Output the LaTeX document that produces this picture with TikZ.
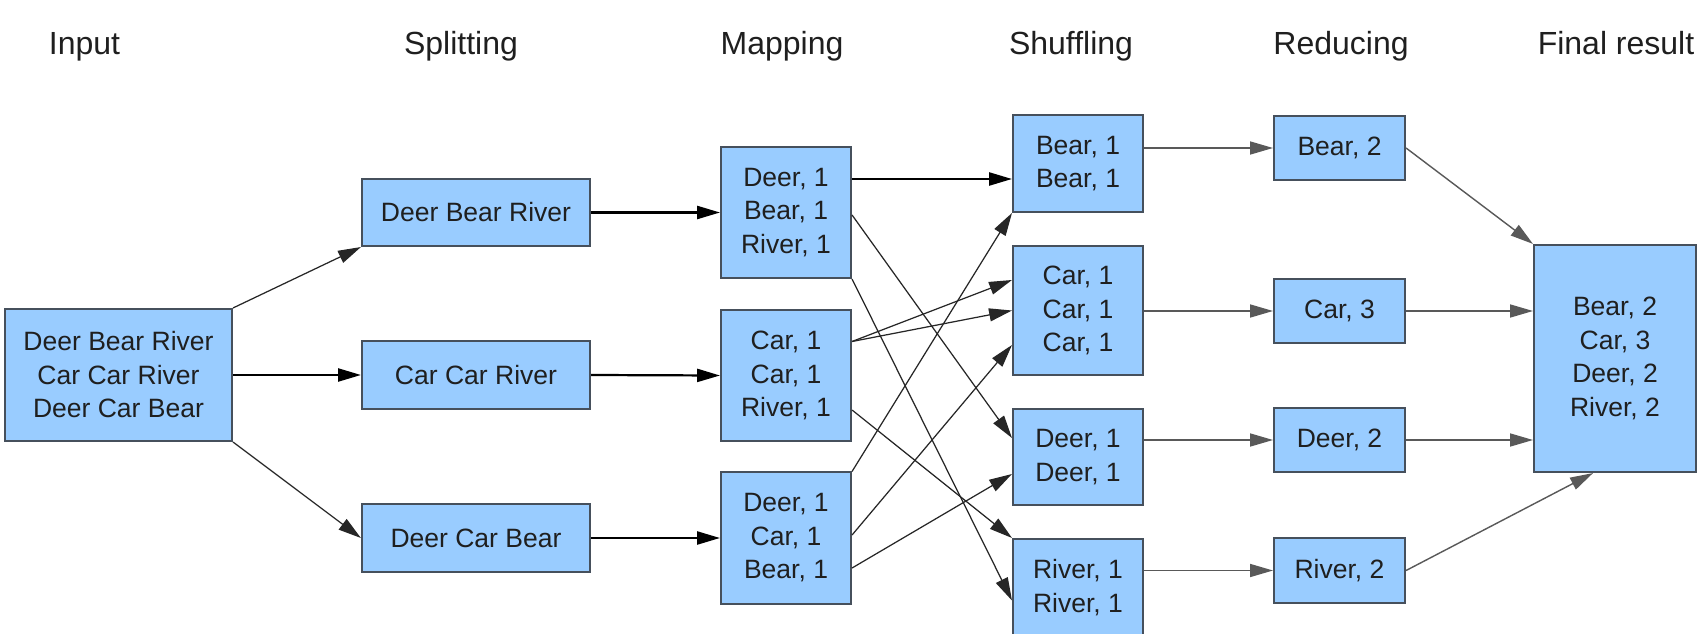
\documentclass[tikz,border=0pt]{standalone}
\usepackage{fontspec}
\setmainfont{Liberation Sans}
\usetikzlibrary{arrows.meta,calc}
\definecolor{boxfill}{RGB}{153,204,255}
\definecolor{boxline}{RGB}{70,80,92}
\begin{document}
\begin{tikzpicture}[x=0.01cm,y=-0.01cm,
  box/.style={draw=boxline, fill=boxfill, line width=0.57pt, inner sep=0pt, align=center,
    font=\fontsize{7.54pt}{9.53pt}\selectfont, text=black!88},
  title/.style={anchor=base, font=\fontsize{9.1pt}{11pt}\selectfont, text=black!88},
  bigarrow/.style={-{Triangle[length=6.5pt,width=3.7pt]}, line width=0.63pt, black},
  thinarrow/.style={-{Triangle[length=6.5pt,width=3.7pt]}, line width=0.35pt, black!85},
  grayarrow/.style={-{Triangle[length=6.5pt,width=3.7pt]}, line width=0.4pt, black!65},
]
\useasboundingbox (0,0) rectangle (1698,634);
\clip (0,0) rectangle (1698,634);
\fill[white] (0,0) rectangle (1698,634);

% titles
\node[title] (tIn)  at (84.5,55) {Input};
\node[title] (tSp)  at (461,55)  {Splitting};
\node[title] (tMa)  at (782,55)  {Mapping};
\node[title] (tSh)  at (1071,55) {Shuffling};
\node[title] (tRe)  at (1341,55) {Reducing};
\node[title] (tFi)  at (1616,55) {Final result};

% input
\node[box, minimum width=2.27cm, minimum height=1.32cm] (in) at (118.5,375)
  {Deer Bear River\\Car Car River\\Deer Car Bear};

% splitting
\node[box, minimum width=2.28cm, minimum height=0.67cm] (s1) at (476,212.5) {Deer Bear River};
\node[box, minimum width=2.28cm, minimum height=0.67cm] (s2) at (476,375)   {Car Car River};
\node[box, minimum width=2.28cm, minimum height=0.67cm] (s3) at (476,538)   {Deer Car Bear};

% mapping
\node[box, minimum width=1.30cm, minimum height=1.31cm] (m1) at (786,212.5) {Deer, 1\\Bear, 1\\River, 1};
\node[box, minimum width=1.30cm, minimum height=1.31cm] (m2) at (786,375.5) {Car, 1\\Car, 1\\River, 1};
\node[box, minimum width=1.30cm, minimum height=1.31cm] (m3) at (786,538)   {Deer, 1\\Car, 1\\Bear, 1};

% shuffling
\node[box, minimum width=1.30cm, minimum height=0.97cm] (sB) at (1078,163.5) {Bear, 1\\Bear, 1};
\node[box, minimum width=1.30cm, minimum height=1.29cm] (sC) at (1078,310.5) {Car, 1\\Car, 1\\Car, 1};
\node[box, minimum width=1.30cm, minimum height=0.96cm] (sD) at (1078,457)   {Deer, 1\\Deer, 1};
\node[box, minimum width=1.30cm, minimum height=0.97cm] (sR) at (1078,587.5) {River, 1\\River, 1};

% reducing
\node[box, minimum width=1.31cm, minimum height=0.64cm] (rB) at (1339.5,148)   {Bear, 2};
\node[box, minimum width=1.31cm, minimum height=0.64cm] (rC) at (1339.5,311)   {Car, 3};
\node[box, minimum width=1.31cm, minimum height=0.64cm] (rD) at (1339.5,440)   {Deer, 2};
\node[box, minimum width=1.31cm, minimum height=0.64cm] (rR) at (1339.5,570.5) {River, 2};

% final
\node[box, minimum width=1.62cm, minimum height=2.27cm] (fin) at (1615,358.5)
  {Bear, 2\\Car, 3\\Deer, 2\\River, 2};

% input -> splitting
\draw[thinarrow] (in.north east) -- (s1.south west);
\draw[bigarrow]  (in.east) -- (s2.west);
\draw[thinarrow] (in.south east) -- (s3.west);

% splitting -> mapping
\draw[bigarrow] (s1.east) -- (m1.west);
\draw[bigarrow] (s2.east) -- (m2.west);
\draw[bigarrow] (s3.east) -- (m3.west);

% mapping -> shuffling
\draw[bigarrow]  ($(m1.east)+(0,-33.5)$) -- ($(sB.west)+(0,15.5)$);
\draw[thinarrow] ($(m1.east)+(0,2.5)$)   -- ($(sD.west)+(0,-19)$);
\draw[thinarrow] (m1.south east)         -- ($(sR.west)+(0,13)$);
\draw[thinarrow] ($(m2.east)+(0,-34)$)   -- ($(sC.west)+(0,-30.5)$);
\draw[thinarrow] ($(m2.east)+(0,-34)$)   -- (sC.west);
\draw[thinarrow] ($(m2.east)+(0,34.5)$)  -- (sR.north west);
\draw[thinarrow] (m3.north east)         -- (sB.south west);
\draw[thinarrow] ($(m3.east)+(0,-3)$)    -- ($(sC.west)+(0,34.5)$);
\draw[thinarrow] ($(m3.east)+(0,30)$)    -- ($(sD.west)+(0,17)$);

% shuffling -> reducing
\draw[grayarrow] (sB.east |- rB.west) -- (rB.west);
\draw[grayarrow] (sC.east |- rC.west) -- (rC.west);
\draw[grayarrow] (sD.east |- rD.west) -- (rD.west);
\draw[grayarrow] (sR.east |- rR.west) -- (rR.west);

% reducing -> final
\draw[grayarrow] (rB.east) -- (fin.north west);
\draw[grayarrow] (rC.east) -- (fin.west |- rC.east);
\draw[grayarrow] (rD.east) -- (fin.west |- rD.east);
\draw[grayarrow] (rR.east) -- ($(fin.south)+(-22,0)$);
\end{tikzpicture}
\end{document}
